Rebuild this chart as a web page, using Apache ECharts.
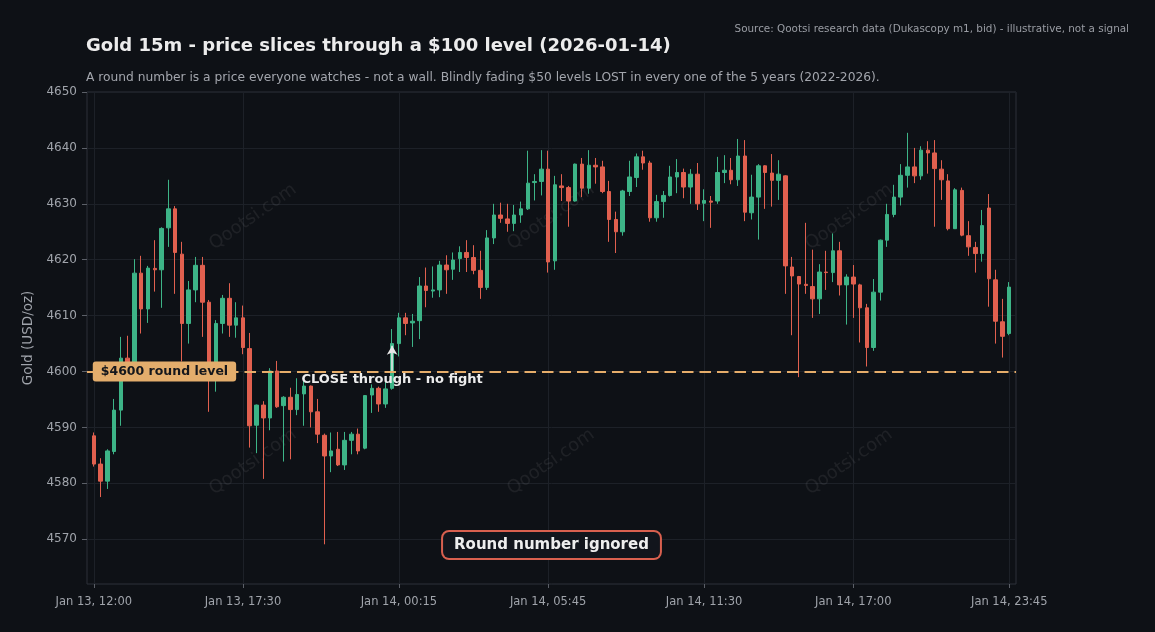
<!DOCTYPE html>
<html>
<head>
<meta charset="utf-8">
<script src="https://cdn.jsdelivr.net/npm/echarts@6/dist/echarts.min.js"></script>
<style>
html,body{margin:0;padding:0;background:#0e1116;}
#chart{width:1155px;height:632px;}
</style>
</head>
<body>
<div id="chart"></div>
<script>
// ---- time categories (15m bars, daily break 22:00-22:45 skipped) ----
const day13 = ['12:00','12:15','12:30','12:45','13:00','13:15','13:30','13:45','14:00','14:15','14:30','14:45',
  '15:00','15:15','15:30','15:45','16:00','16:15','16:30','16:45','17:00','17:15','17:30','17:45',
  '18:00','18:15','18:30','18:45','19:00','19:15','19:30','19:45','20:00','20:15','20:30','20:45',
  '21:00','21:15','21:30','21:45','23:00','23:15','23:30','23:45'];
const day14 = ['00:00','00:15','00:30','00:45','01:00','01:15','01:30','01:45','02:00','02:15','02:30','02:45',
  '03:00','03:15','03:30','03:45','04:00','04:15','04:30','04:45','05:00','05:15','05:30','05:45',
  '06:00','06:15','06:30','06:45','07:00','07:15','07:30','07:45','08:00','08:15','08:30','08:45',
  '09:00','09:15','09:30','09:45','10:00','10:15','10:30','10:45','11:00','11:15','11:30','11:45',
  '12:00','12:15','12:30','12:45','13:00','13:15','13:30','13:45','14:00','14:15','14:30','14:45',
  '15:00','15:15','15:30','15:45','16:00','16:15','16:30','16:45','17:00','17:15','17:30','17:45',
  '18:00','18:15','18:30','18:45','19:00','19:15','19:30','19:45','20:00','20:15','20:30','20:45',
  '21:00','21:15','21:30','21:45','23:00','23:15','23:30','23:45'];
const categories = day13.map(t => 'Jan 13, ' + t).concat(day14.map(t => 'Jan 14, ' + t));

const tickLabels = ['Jan 13, 12:00','Jan 13, 17:30','Jan 14, 00:15','Jan 14, 05:45','Jan 14, 11:30','Jan 14, 17:00','Jan 14, 23:45'];

// ---- OHLC (USD/oz) ----
const open = [4588.5,4583.45,4580.4,4585.7,4593.1,4602.4,4601.0,4617.6,4611.2,4618.45,
  4618.2,4625.7,4629.1,4621.0,4608.6,4614.6,4619.0,4612.4,4600.6,4608.6,
  4613.1,4608.3,4609.6,4604.1,4590.4,4594.0,4591.7,4600.1,4593.9,4595.4,
  4593.2,4596.0,4597.4,4592.8,4588.6,4584.9,4586.1,4583.3,4587.7,4588.8,
  4586.3,4595.8,4597.0,4594.2,4597.0,4605.0,4609.6,4608.7,4609.1,4615.3,
  4614.4,4614.6,4619.05,4618.3,4620.2,4621.3,4620.4,4618.1,4615.05,4623.9,
  4628.0,4627.3,4626.5,4628.0,4629.1,4633.8,4634.0,4636.2,4619.8,4633.2,
  4632.9,4630.5,4637.1,4632.8,4636.9,4636.6,4632.2,4627.2,4625.0,4632.2,
  4634.7,4638.4,4637.3,4627.5,4630.4,4631.5,4634.8,4635.6,4633.0,4635.3,
  4630.1,4630.5,4630.5,4635.6,4636.0,4634.3,4638.55,4628.4,4631.2,4636.8,
  4635.5,4634.2,4635.0,4618.7,4617.0,4615.6,4615.2,4613.0,4617.8,4617.7,
  4621.6,4615.5,4616.9,4615.5,4611.4,4604.3,4614.2,4623.5,4628.1,4631.2,
  4635.1,4636.6,4635.0,4639.6,4639.1,4636.2,4634.1,4625.55,4632.4,4624.3,
  4622.2,4621.1,4629.25,4616.4,4608.9,4606.8];
const high = [4589.1,4584.5,4586.1,4595.1,4606.2,4606.4,4620.1,4620.7,4618.9,4623.5,
  4625.8,4634.3,4629.6,4623.2,4616.2,4620.5,4620.5,4612.8,4609.2,4613.7,
  4615.8,4612.4,4611.8,4606.9,4594.1,4594.7,4600.6,4601.9,4595.6,4597.1,
  4598.8,4598.8,4597.5,4595.1,4588.9,4589.1,4589.2,4589.2,4589.2,4589.8,
  4595.8,4597.7,4597.3,4598.8,4607.6,4610.5,4610.5,4610.3,4616.9,4618.6,
  4618.8,4619.8,4620.8,4621.3,4622.4,4623.5,4622.6,4621.6,4625.3,4630.0,
  4630.2,4630.0,4629.8,4630.4,4639.5,4635.3,4639.6,4639.5,4635.0,4635.3,
  4633.2,4637.2,4638.2,4639.6,4638.2,4637.7,4634.1,4628.6,4632.5,4637.7,
  4639.0,4639.5,4637.7,4631.6,4632.3,4636.8,4638.0,4636.3,4636.2,4637.3,
  4632.6,4631.4,4638.4,4638.7,4638.2,4641.6,4641.4,4635.2,4637.1,4636.9,
  4638.9,4637.8,4635.1,4620.5,4617.1,4626.6,4621.8,4619.2,4621.6,4624.7,
  4623.2,4617.4,4619.05,4615.7,4612.1,4616.55,4623.6,4630.0,4633.4,4637.1,
  4642.7,4640.0,4640.3,4641.2,4641.4,4637.8,4635.3,4632.8,4632.9,4626.9,
  4623.2,4628.9,4631.75,4618.2,4613.0,4616.0];
const low = [4583.0,4577.55,4579.0,4585.2,4590.3,4599.6,4599.2,4606.8,4608.7,4614.3,
  4611.4,4622.3,4613.9,4601.8,4605.0,4612.4,4606.2,4592.8,4596.4,4606.8,
  4606.2,4606.05,4603.1,4586.4,4585.4,4580.8,4589.5,4593.5,4583.9,4584.3,
  4592.2,4590.3,4590.0,4587.2,4569.1,4582.0,4583.1,4582.4,4585.2,4585.2,
  4586.1,4592.6,4592.8,4593.5,4596.75,4602.7,4606.5,4604.4,4605.8,4611.5,
  4613.2,4613.3,4613.9,4616.4,4617.8,4617.8,4617.4,4613.0,4614.6,4622.8,
  4626.6,4625.0,4625.1,4626.6,4628.9,4630.6,4631.5,4617.7,4618.2,4630.5,
  4625.9,4630.4,4631.2,4631.8,4633.6,4631.9,4623.2,4621.2,4624.3,4631.4,
  4633.0,4636.1,4626.8,4626.8,4627.5,4631.3,4631.9,4631.0,4630.0,4628.9,
  4626.9,4625.7,4630.0,4633.7,4633.5,4633.2,4626.9,4627.2,4623.6,4629.1,
  4629.5,4630.7,4613.9,4606.5,4599.0,4613.9,4609.6,4610.3,4614.6,4616.0,
  4613.6,4608.4,4609.6,4605.2,4600.9,4603.7,4612.7,4622.3,4627.6,4629.7,
  4632.9,4633.7,4634.3,4635.4,4625.9,4630.7,4625.25,4625.5,4624.2,4620.7,
  4617.7,4619.65,4611.6,4605.0,4602.5,4606.5];
const close = [4583.45,4580.4,4585.8,4593.1,4602.4,4601.0,4617.6,4611.2,4618.5,4618.2,
  4625.6,4629.1,4621.3,4608.6,4614.6,4619.0,4612.4,4600.6,4608.6,4613.1,
  4608.3,4609.6,4604.3,4590.3,4594.0,4591.7,4600.1,4593.7,4595.4,4593.2,
  4595.9,4597.4,4592.8,4588.8,4584.9,4585.8,4583.3,4587.7,4588.8,4585.8,
  4595.7,4597.0,4594.2,4596.9,4605.0,4609.6,4608.6,4609.0,4615.3,4614.5,
  4614.6,4619.05,4618.2,4619.95,4621.3,4620.4,4618.1,4615.05,4623.9,4628.0,
  4627.4,4626.5,4628.0,4629.1,4633.7,4634.0,4636.2,4619.6,4633.4,4632.9,
  4630.5,4637.1,4632.8,4636.9,4636.6,4632.2,4627.2,4625.0,4632.3,4634.8,
  4638.4,4637.3,4627.5,4630.4,4631.5,4634.8,4635.6,4633.0,4635.3,4630.0,
  4630.6,4630.3,4635.6,4636.0,4634.3,4638.55,4628.5,4631.2,4636.8,4635.6,
  4634.2,4635.3,4618.9,4617.1,4615.65,4615.4,4613.0,4617.8,4617.7,4621.6,
  4615.5,4616.9,4615.65,4611.4,4604.3,4614.2,4623.5,4628.1,4631.2,4635.1,
  4636.6,4635.0,4639.6,4639.1,4636.3,4634.3,4625.55,4632.5,4624.4,4622.3,
  4621.1,4626.1,4616.6,4609.0,4606.3,4615.1];

// ---- annotations ----
const roundLevel = 4600;
const breakIndex = 44;          // bar whose close went through the level
const arrowFrom = 4600.1, arrowTo = 4604.6, noteY = 4598.6;

// pad one empty slot each side so bars sit one step in from the frame
const cats = [' '].concat(categories, ['  ']);
const candleData = ['-'].concat(open.map((o, i) => [o, close[i], low[i], high[i]]), ['-']);

const UP = '#3db487', DOWN = '#e1604f';
const FONT = 'DejaVu Sans';
const chart = echarts.init(document.getElementById('chart'), null, {renderer: 'canvas'});

const wm = [];
[[253, 217], [551, 217], [849, 217], [253, 462], [551, 462], [849, 462]].forEach(p => {
  wm.push({type: 'text', x: p[0], y: p[1], rotation: 35 * Math.PI / 180, z: 1, silent: true,
    style: {text: 'Qootsi.com', fontFamily: FONT, fontSize: 18, fill: 'rgba(255,255,255,0.07)', align: 'center', verticalAlign: 'middle'}});
});

const isTick = (idx, val) => tickLabels.indexOf(val) >= 0;

chart.setOption({
  backgroundColor: '#0e1116',
  animation: false,
  title: [
    {text: 'Gold 15m - price slices through a $100 level (2026-01-14)', left: 86, top: 37, padding: 0,
      textStyle: {color: '#ececec', fontSize: 18, fontWeight: 'bold', fontFamily: FONT}},
    {text: 'A round number is a price everyone watches - not a wall. Blindly fading $50 levels LOST in every one of the 5 years (2022-2026).',
      left: 86, top: 72, padding: 0, textStyle: {color: '#a3a6ad', fontSize: 12.25, fontWeight: 'normal', fontFamily: FONT}},
    {text: 'Source: Qootsi research data (Dukascopy m1, bid) - illustrative, not a signal', right: 26, top: 24, padding: 0,
      textStyle: {color: '#9a9da4', fontSize: 10.4, fontWeight: 'normal', fontFamily: FONT}}
  ],
  grid: {left: 87, right: 139, top: 92, bottom: 48, show: true, borderColor: '#2c3038', borderWidth: 1, backgroundColor: 'transparent'},
  xAxis: {
    type: 'category', data: cats, boundaryGap: false,
    axisLine: {show: false},
    axisTick: {show: true, interval: isTick, length: 4, lineStyle: {color: '#5c6068'}},
    axisLabel: {interval: isTick, color: '#a0a4ab', fontSize: 11.5, fontFamily: FONT, margin: 12},
    splitLine: {show: true, interval: isTick, lineStyle: {color: '#1d2128', width: 1}}
  },
  yAxis: {
    type: 'value', min: 4562, max: 4650, splitNumber: 9, scale: true,
    name: 'Gold (USD/oz)', nameLocation: 'middle', nameGap: 46,
    nameTextStyle: {color: '#a0a4ab', fontSize: 13.5, fontFamily: FONT},
    axisLine: {show: false},
    axisTick: {show: true, length: 5, lineStyle: {color: '#5c6068'}},
    axisLabel: {color: '#a0a4ab', fontSize: 12, fontFamily: FONT, margin: 10, showMinLabel: false,
      formatter: v => String(Math.round(v))},
    splitLine: {show: true, lineStyle: {color: '#1d2128', width: 1}}
  },
  graphic: wm.concat([
    {type: 'text', x: 551.5, y: 545, z: 100,
      style: {text: 'Round number ignored', fontFamily: FONT, fontSize: 15, fontWeight: 'bold', fill: '#eeeeee',
        align: 'center', verticalAlign: 'middle', backgroundColor: '#12151c', borderColor: '#d9604f', borderWidth: 2,
        borderRadius: 6, padding: [6, 11, 5, 11]}}
  ]),
  series: [{
    type: 'candlestick', data: candleData, barWidth: 4, z: 3,
    itemStyle: {color: UP, color0: DOWN, borderColor: UP, borderColor0: DOWN, borderWidth: 1},
    markLine: {
      silent: true, animation: false, z: 4, symbol: ['none', 'none'],
      data: [
        {yAxis: roundLevel, label: {show: false},
          lineStyle: {color: '#e6ad6a', width: 2, type: [11.5, 6], opacity: 1}},
        [{coord: [categories[breakIndex], arrowFrom], symbol: 'none'},
         {coord: [categories[breakIndex], arrowTo], symbol: 'arrow', symbolSize: [8, 9],
          label: {show: false}, lineStyle: {color: '#e8e8e8', width: 1.6, type: 'solid', opacity: 1}}]
      ],
      lineStyle: {color: '#e8e8e8', width: 1.6, type: 'solid'},
      label: {show: false}
    },
    markPoint: {
      silent: true, animation: false, z: 6, symbol: 'circle', symbolSize: 0,
      data: [
        {coord: [categories[0], roundLevel],
          label: {show: true, position: 'right', distance: 0, offset: [-1, 0], formatter: '$4600 round level',
            fontFamily: FONT, fontSize: 12.5, fontWeight: 'bold', color: '#15171c',
            backgroundColor: '#e3ad6c', borderRadius: 3, padding: [4, 8, 3, 8]}},
        {coord: [categories[breakIndex], noteY],
          label: {show: true, position: 'inside', formatter: 'CLOSE through - no fight',
            fontFamily: FONT, fontSize: 13, fontWeight: 'bold', color: '#ececec'}}
      ]
    }
  }]
});
</script>
</body>
</html>
